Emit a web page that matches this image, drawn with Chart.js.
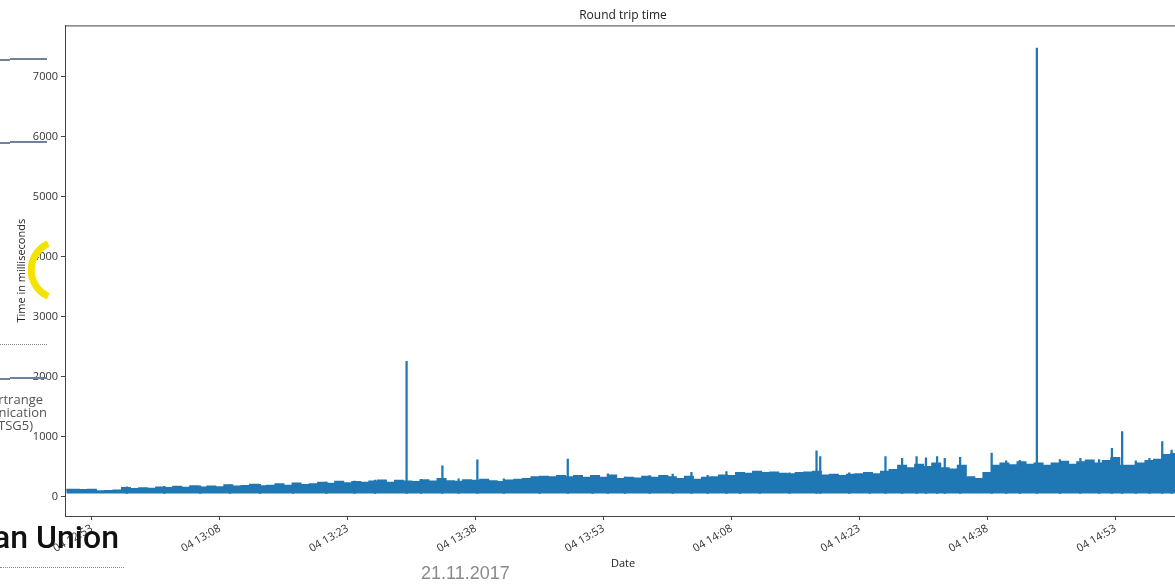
<!DOCTYPE html>
<html>
<head>
<meta charset="utf-8">
<title>Round trip time</title>
<script src="https://cdn.jsdelivr.net/npm/chart.js@4.4.0/dist/chart.umd.min.js"></script>
<style>
    html, body { margin: 0; padding: 0; background: #fff; overflow: hidden; }
    #wrap { position: relative; width: 1175px; height: 585px; overflow: hidden; }
    #chartBox { position: absolute; left: 0; top: 0; width: 1190px; height: 585px; }
    .slide { position: absolute; z-index: 2; }
    .rule { position: absolute; height: 2px; background: #6f8299; }
    .dots { position: absolute; border-top: 1px dotted #8a8a8a; }
    .topic { position: absolute; font: 13px 'Open Sans', sans-serif; color: #555; white-space: nowrap; line-height: 13px; }
    .union { position: absolute; right: calc(1175px - 119px); top: 518px; font: 500 32px Roboto, sans-serif; color: #111; white-space: nowrap; }
    .date { position: absolute; left: 421px; top: 563px; font: 18px 'Liberation Sans', Arial, sans-serif; color: #8a8a8a; }
</style>
</head>
<body>
<div id="wrap">
    <div id="chartBox"><canvas id="rttChart"></canvas></div>

    <!-- bits of the slide behind the screenshot -->
    <div class="slide" style="left:0;top:0;width:1175px;height:585px;pointer-events:none;">
        <div class="rule" style="left:0;top:59px;width:10px;"></div>
        <div class="rule" style="left:10px;top:58px;width:37px;"></div>
        <div class="rule" style="left:0;top:142px;width:10px;"></div>
        <div class="rule" style="left:10px;top:141px;width:37px;"></div>
        <div class="dots" style="left:0;top:344px;width:47px;"></div>
        <div class="rule" style="left:0;top:378px;width:10px;"></div>
        <div class="rule" style="left:10px;top:377px;width:37px;"></div>
        <svg width="80" height="80" style="position:absolute;left:20px;top:230px;overflow:visible">
            <path d="M 28.2 13.6 A 29 29 0 0 0 28.2 66.4" fill="none" stroke="#f4e200" stroke-width="7"/>
        </svg>
        <div class="topic" style="right:calc(1175px - 43px);top:393px;">Shortrange</div>
        <div class="topic" style="right:calc(1175px - 47px);top:406px;">Communication</div>
        <div class="topic" style="right:calc(1175px - 33px);top:419px;">(TSG5)</div>
        <div class="union">European Union</div>
        <div class="dots" style="left:0;top:567px;width:124px;"></div>
        <div class="date">21.11.2017</div>
    </div>
</div>

<script>
// --- data ---
// one envelope sample per minute, starting at 12:50 (upper edge of the dense trace, ms)
const sampleStart = '12:50';
const upperRtt = [
    120, 120, 118, 120, 95, 100, 110, 150, 135, 145,
    140, 160, 150, 170, 155, 180, 160, 175, 165, 195,
    175, 185, 205, 180, 190, 215, 190, 225, 200, 215,
    240, 220, 255, 230, 250, 240, 260, 275, 240, 270,
    260, 250, 280, 260, 300, 265, 255, 280, 270, 290,
    265, 250, 275, 290, 300, 330, 340, 330, 350, 330,
    350, 320, 350, 320, 360, 300, 320, 310, 340, 320,
    350, 330, 300, 340, 290, 320, 330, 360, 350, 400,
    390, 420, 400, 410, 390, 380, 400, 410, 420, 360,
    370, 350, 370, 380, 400, 380, 420, 450, 520, 480,
    540, 500, 560, 480, 460, 520, 330, 300, 400, 520,
    560, 530, 580, 540, 560, 520, 560, 590, 540, 580,
    610, 560, 600, 650, 520, 520, 560, 600, 620, 700,
    720
];
const minRtt = 55; // lower edge of the trace

// single samples that stick out above the trace
const spikeTimes = [
    '12:57:06', '13:01:30', '13:05:42', '13:09:12', '13:12:42', '13:16:36', '13:20:30',
    '13:23:48', '13:26:12', '13:29:54', '13:31:36', '13:34:06', '13:36:00', '13:38:12',
    '13:41:18', '13:45:30', '13:48:48', '13:51:42', '13:53:30', '13:55:30', '13:58:24',
    '14:01:06', '14:03:18', '14:05:12', '14:07:24', '14:09:00', '14:11:18', '14:14:48',
    '14:17:58', '14:18:24', '14:21:48', '14:24:12', '14:26:03', '14:28:00', '14:29:42',
    '14:30:48', '14:32:06', '14:33:00', '14:34:48', '14:38:30', '14:40:12', '14:41:48',
    '14:43:48', '14:46:30', '14:48:54', '14:51:06', '14:52:36', '14:53:48', '14:55:24',
    '14:57:00', '14:58:30', '14:59:36'
];
const spikeValues = [
    165, 175, 185, 200, 210, 222, 244,
    262, 277, 2260, 290, 515, 300, 615,
    300, 330, 630, 345, 382, 330, 355,
    377, 410, 360, 421, 410, 420, 400,
    765, 670, 400, 410, 670, 640, 670,
    650, 670, 640, 660, 730, 600, 610,
    7480, 620, 640, 620, 810, 1086, 600,
    640, 920, 780
];

const xTickTimes = ['12:53', '13:08', '13:23', '13:38', '13:53', '14:08', '14:23', '14:38', '14:53'];
const yTickValues = [0, 1000, 2000, 3000, 4000, 5000, 6000, 7000];

// --- helpers ---
function toMinutes(t) {
    const p = t.split(':').map(Number);
    return p[0] * 60 + p[1] + (p[2] || 0) / 60;
}
function clockLabel(m) {
    const h = Math.floor(m / 60);
    const mm = Math.round(m - h * 60);
    return '04 ' + String(h).padStart(2, '0') + ':' + String(mm).padStart(2, '0');
}

const startMin = toMinutes(sampleStart);
const traceData = upperRtt.map((v, i) => ({ x: startMin + i, y: v }));
const spikeData = spikeTimes.map((t, i) => ({ x: toMinutes(t), y: [minRtt, spikeValues[i]] }));

const mplBlue = '#1f77b4';
const axisColor = '#444';
const tickFont = { family: "'Open Sans', sans-serif", size: 11 };

// matplotlib draws all four spines
const framePlugin = {
    id: 'frame',
    afterDraw(chart) {
        const a = chart.chartArea;
        const ctx = chart.ctx;
        ctx.save();
        ctx.strokeStyle = axisColor;
        ctx.lineWidth = 1;
        ctx.strokeRect(a.left + 0.5, a.top + 0.5, a.right - a.left, a.bottom - a.top);
        ctx.restore();
    }
};

new Chart(document.getElementById('rttChart'), {
    type: 'line',
    data: {
        datasets: [
            {
                type: 'bar',
                label: 'spikes',
                data: spikeData,
                backgroundColor: mplBlue,
                borderWidth: 0,
                barThickness: 1.6,
                grouped: false
            },
            {
                label: 'Round trip time',
                data: traceData,
                borderColor: mplBlue,
                backgroundColor: mplBlue,
                borderWidth: 1.5,
                stepped: 'middle',
                pointRadius: 0,
                fill: { value: minRtt }
            }
        ]
    },
    options: {
        responsive: true,
        maintainAspectRatio: false,
        animation: false,
        layout: { padding: { left: 0, right: 9, top: 0, bottom: 0 } },
        plugins: {
            legend: { display: false },
            tooltip: { enabled: false },
            title: {
                display: true,
                text: 'Round trip time',
                fullSize: false,
                color: '#222',
                font: { family: "'Open Sans', sans-serif", size: 12, weight: 'normal' },
                padding: { top: 8, bottom: 3 }
            }
        },
        scales: {
            x: {
                type: 'linear',
                min: 769.85,
                max: 900.7,
                offset: false,
                afterBuildTicks: scale => {
                    scale.ticks = xTickTimes.map(t => ({ value: toMinutes(t) }));
                },
                afterFit: scale => { scale.height = 69; },
                grid: { display: true, offset: false, drawOnChartArea: false, drawTicks: true, tickLength: 4, color: axisColor },
                border: { color: axisColor },
                ticks: {
                    autoSkip: false,
                    minRotation: 30,
                    maxRotation: 30,
                    padding: 2,
                    color: '#333',
                    font: tickFont,
                    callback: v => clockLabel(v)
                },
                title: {
                    display: true,
                    text: 'Date',
                    color: '#222',
                    font: tickFont,
                    padding: { top: 4, bottom: 15 }
                }
            },
            y: {
                type: 'linear',
                min: -320,
                max: 7860,
                afterBuildTicks: scale => {
                    scale.ticks = yTickValues.map(v => ({ value: v }));
                },
                afterFit: scale => { scale.width = 65; },
                grid: { display: true, drawOnChartArea: false, drawTicks: true, tickLength: 4, color: axisColor },
                border: { color: axisColor },
                ticks: { color: '#333', font: tickFont, padding: 3, callback: v => String(v) },
                title: {
                    display: true,
                    text: 'Time in milliseconds',
                    color: '#222',
                    font: tickFont,
                    padding: { top: 15, bottom: 4 }
                }
            }
        }
    },
    plugins: [framePlugin]
});
</script>
</body>
</html>
